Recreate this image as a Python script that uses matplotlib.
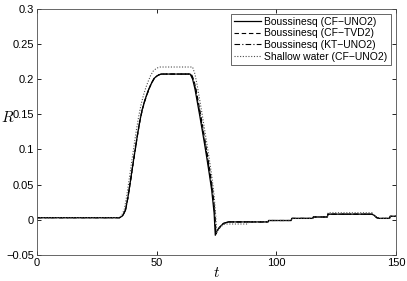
import matplotlib
matplotlib.use("Agg")
import matplotlib.pyplot as plt
import numpy as np

plt.rcParams["font.family"] = ["Liberation Sans", "DejaVu Sans"]
plt.rcParams["mathtext.fontset"] = "cm"

# Boussinesq (CF-UNO2)
t_uno = [0, 33, 34.5, 35.5, 36, 37, 38, 39, 40, 41, 42, 43, 44, 45, 46, 47, 48, 49, 50, 51, 52,
         64, 65, 66, 67, 68, 69, 70, 71, 72, 73, 74, 74.5, 75, 76, 77, 78, 79, 80,
         96.5, 96.8, 106.2, 106.5, 115.2, 115.5, 121.3, 121.6, 140, 141, 142, 143, 147.3, 147.6, 150]
R_uno = [0.003, 0.003, 0.003, 0.005, 0.007, 0.014, 0.032, 0.054, 0.077, 0.099, 0.121, 0.141, 0.157,
         0.169, 0.179, 0.188, 0.195, 0.201, 0.204, 0.206, 0.207,
         0.207, 0.200, 0.186, 0.167, 0.148, 0.128, 0.108, 0.087, 0.065, 0.042, 0.010, -0.022, -0.017,
         -0.012, -0.008, -0.005, -0.004, -0.003,
         -0.003, -0.001, -0.001, 0.002, 0.002, 0.004, 0.004, 0.008, 0.008, 0.006, 0.003, 0.002, 0.002,
         0.005, 0.005]

# Boussinesq (CF-TVD2)
t_tvd = [0, 33, 34.5, 35.5, 36, 37, 38, 39, 40, 41, 42, 43, 44, 45, 46, 47, 48, 49, 50, 51, 52,
         64.5, 65.5, 66.5, 67.5, 68.5, 69.5, 70.5, 71.5, 72.5, 73.5, 74.3, 74.8, 75.3, 76, 77, 78, 79, 80,
         96.5, 96.8, 106.2, 106.5, 115.2, 115.5, 121.3, 121.6, 140, 141, 142, 143, 147.3, 147.6, 150]
R_tvd = [0.003, 0.003, 0.003, 0.005, 0.007, 0.014, 0.031, 0.053, 0.076, 0.098, 0.120, 0.140, 0.156,
         0.168, 0.178, 0.187, 0.195, 0.201, 0.204, 0.206, 0.207,
         0.207, 0.199, 0.185, 0.166, 0.147, 0.127, 0.107, 0.086, 0.064, 0.040, 0.012, -0.020, -0.016,
         -0.012, -0.008, -0.005, -0.004, -0.003,
         -0.003, -0.001, -0.001, 0.002, 0.002, 0.004, 0.004, 0.008, 0.008, 0.006, 0.003, 0.002, 0.002,
         0.005, 0.005]

# Boussinesq (KT-UNO2)
t_kt = [0, 33, 34.5, 35.5, 36, 37, 38, 39, 40, 41, 42, 43, 44, 45, 46, 47, 48, 49, 50, 51, 52,
        64.3, 65.3, 66.3, 67.3, 68.3, 69.3, 70.3, 71.3, 72.3, 73.3, 74.2, 74.7, 75.2, 76, 77, 78, 79, 80,
        96.5, 96.8, 106.2, 106.5, 115.2, 115.5, 121.3, 121.6, 140, 141, 142, 143, 147.3, 147.6, 150]
R_kt = [0.003, 0.003, 0.003, 0.005, 0.007, 0.014, 0.032, 0.054, 0.077, 0.099, 0.121, 0.141, 0.157,
        0.169, 0.179, 0.188, 0.195, 0.201, 0.204, 0.206, 0.207,
        0.207, 0.199, 0.185, 0.166, 0.147, 0.127, 0.107, 0.086, 0.064, 0.041, 0.011, -0.021, -0.016,
        -0.012, -0.008, -0.005, -0.004, -0.003,
        -0.003, -0.001, -0.001, 0.002, 0.002, 0.004, 0.004, 0.008, 0.008, 0.006, 0.003, 0.002, 0.002,
        0.005, 0.005]

# Shallow water (CF-UNO2)
t_sw = [0, 32.5, 34, 35, 35.5, 36.5, 37.5, 38.5, 39.5, 40.5, 41.5, 42.5, 43.5, 44.5, 45.5, 46.5,
        47.5, 48.5, 49.5, 50.5, 51.5,
        65, 66, 67, 68, 69, 70, 71, 72, 73, 74, 74.7, 75.1, 75.6, 76.5, 77.5, 78.5, 79.5, 80,
        88, 88.5, 96.5, 96.8, 106.2, 106.5, 115.2, 115.5, 121.3, 121.6, 140, 141, 142, 143, 147.3,
        147.6, 150]
R_sw = [0.003, 0.003, 0.003, 0.005, 0.007, 0.015, 0.034, 0.057, 0.081, 0.104, 0.127, 0.147, 0.164,
        0.177, 0.188, 0.197, 0.205, 0.211, 0.214, 0.216, 0.217,
        0.217, 0.207, 0.190, 0.170, 0.150, 0.129, 0.108, 0.086, 0.063, 0.035, 0.005, -0.018, -0.015,
        -0.011, -0.008, -0.006, -0.006, -0.006,
        -0.006, -0.003, -0.003, -0.001, -0.001, 0.002, 0.002, 0.004, 0.004, 0.010, 0.010, 0.006,
        0.003, 0.002, 0.002, 0.005, 0.005]

y_ticks = [-0.05, 0, 0.05, 0.1, 0.15, 0.2, 0.25, 0.3]
y_tick_labels = ["\u22120.05", "0", "0.05", "0.1", "0.15", "0.2", "0.25", "0.3"]
x_ticks = [0, 50, 100, 150]

fig = plt.figure(figsize=(4.07, 2.81), dpi=100)
ax = fig.add_axes([0.0909, 0.0925, 0.882, 0.877])

ax.plot(t_uno, R_uno, color="k", linestyle="-", linewidth=0.9, label="Boussinesq (CF\u2212UNO2)")
ax.plot(t_tvd, R_tvd, color="k", linestyle=(0, (4, 2.5)), linewidth=0.8, label="Boussinesq (CF\u2212TVD2)")
ax.plot(t_kt, R_kt, color="k", linestyle=(0, (5, 2, 1, 2)), linewidth=0.8, label="Boussinesq (KT\u2212UNO2)")
ax.plot(t_sw, R_sw, color="0.3", linestyle=(0, (1, 1.5)), linewidth=0.8, label="Shallow water (CF\u2212UNO2)")

ax.set_xlim(0, 150)
ax.set_ylim(-0.05, 0.3)
ax.set_xticks(x_ticks)
ax.set_xticklabels([str(v) for v in x_ticks])
ax.set_yticks(y_ticks)
ax.set_yticklabels(y_tick_labels)
ax.tick_params(direction="in", length=3, width=0.6, labelsize=8, top=True, right=True, pad=2)
for s in ax.spines.values():
    s.set_linewidth(0.6)
    s.set_color("0.3")

ax.set_xlabel(r"$t$", fontsize=11, labelpad=-1)
ax.set_ylabel(r"$R$", fontsize=11, rotation=0, va="center", ha="center")
ax.yaxis.set_label_coords(-0.082, 0.556)

leg = ax.legend(loc="upper right", fontsize=7.5, handlelength=2.6, handletextpad=0.3,
                borderpad=0.3, labelspacing=0.15, fancybox=False, framealpha=1,
                borderaxespad=0.5)
leg.get_frame().set_edgecolor("0.3")
leg.get_frame().set_linewidth(0.6)

fig.savefig("out.png", dpi=100)
